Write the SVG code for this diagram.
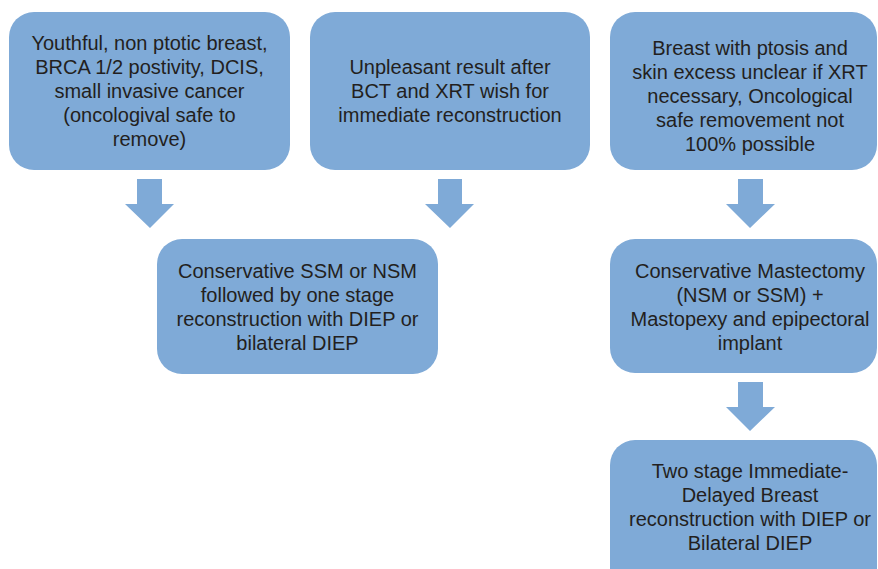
<svg xmlns="http://www.w3.org/2000/svg" width="878" height="569" viewBox="0 0 878 569">
  <defs>
    <style>
      .box { fill: #7FAAD7; }
      .arrow { fill: #7FAAD7; }
      .t { font-family: "Liberation Sans", Arial, Helvetica, sans-serif; font-size: 20px; fill: #231F20; text-anchor: middle; }
    </style>
  </defs>
  <rect x="0" y="0" width="878" height="569" fill="#FFFFFF"/>

  <g id="node-youthful">
    <rect class="box" x="9" y="12" width="281" height="158" rx="25" ry="25"/>
    <text class="t" x="149.5" y="50">Youthful, non ptotic breast,</text>
    <text class="t" x="149.5" y="74">BRCA 1/2 postivity, DCIS,</text>
    <text class="t" x="149.5" y="98">small invasive cancer</text>
    <text class="t" x="149.5" y="122">(oncologival safe to</text>
    <text class="t" x="149.5" y="146">remove)</text>
  </g>

  <g id="node-unpleasant">
    <rect class="box" x="310" y="12" width="280" height="158" rx="25" ry="25"/>
    <text class="t" x="450" y="74">Unpleasant result after</text>
    <text class="t" x="450" y="98">BCT and XRT wish for</text>
    <text class="t" x="450" y="122">immediate reconstruction</text>
  </g>

  <g id="node-ptosis">
    <rect class="box" x="610" y="12" width="267" height="158" rx="25" ry="25"/>
    <text class="t" x="750" y="55">Breast with ptosis and</text>
    <text class="t" x="750" y="79">skin excess unclear if XRT</text>
    <text class="t" x="750" y="103">necessary, Oncological</text>
    <text class="t" x="750" y="127">safe removement not</text>
    <text class="t" x="750" y="151">100% possible</text>
  </g>

  <g id="node-conservative-ssm">
    <rect class="box" x="157" y="239" width="281" height="135" rx="25" ry="25"/>
    <text class="t" x="297.5" y="278">Conservative SSM or NSM</text>
    <text class="t" x="297.5" y="302">followed by one stage</text>
    <text class="t" x="297.5" y="326">reconstruction with DIEP or</text>
    <text class="t" x="297.5" y="350">bilateral DIEP</text>
  </g>

  <g id="node-conservative-mastectomy">
    <rect class="box" x="610" y="239" width="267" height="134" rx="25" ry="25"/>
    <text class="t" x="750" y="278">Conservative Mastectomy</text>
    <text class="t" x="750" y="302">(NSM or SSM) +</text>
    <text class="t" x="750" y="326">Mastopexy and epipectoral</text>
    <text class="t" x="750" y="350">implant</text>
  </g>

  <g id="node-two-stage">
    <rect class="box" x="610" y="440" width="267" height="160" rx="25" ry="25"/>
    <text class="t" x="750" y="478">Two stage Immediate-</text>
    <text class="t" x="750" y="502">Delayed Breast</text>
    <text class="t" x="750" y="526">reconstruction with DIEP or</text>
    <text class="t" x="750" y="550">Bilateral DIEP</text>
  </g>

  <g id="connectors">
    <polygon class="arrow" points="137,179 162,179 162,204 174,204 150,228 125,204 137,204"/>
    <polygon class="arrow" points="438,179 462,179 462,204 474,204 450,228 425,204 438,204"/>
    <polygon class="arrow" points="738,179 763,179 763,204 775,204 750,228 726,204 738,204"/>
    <polygon class="arrow" points="738,382 763,382 763,407 775,407 750,431 726,407 738,407"/>
  </g>
</svg>
